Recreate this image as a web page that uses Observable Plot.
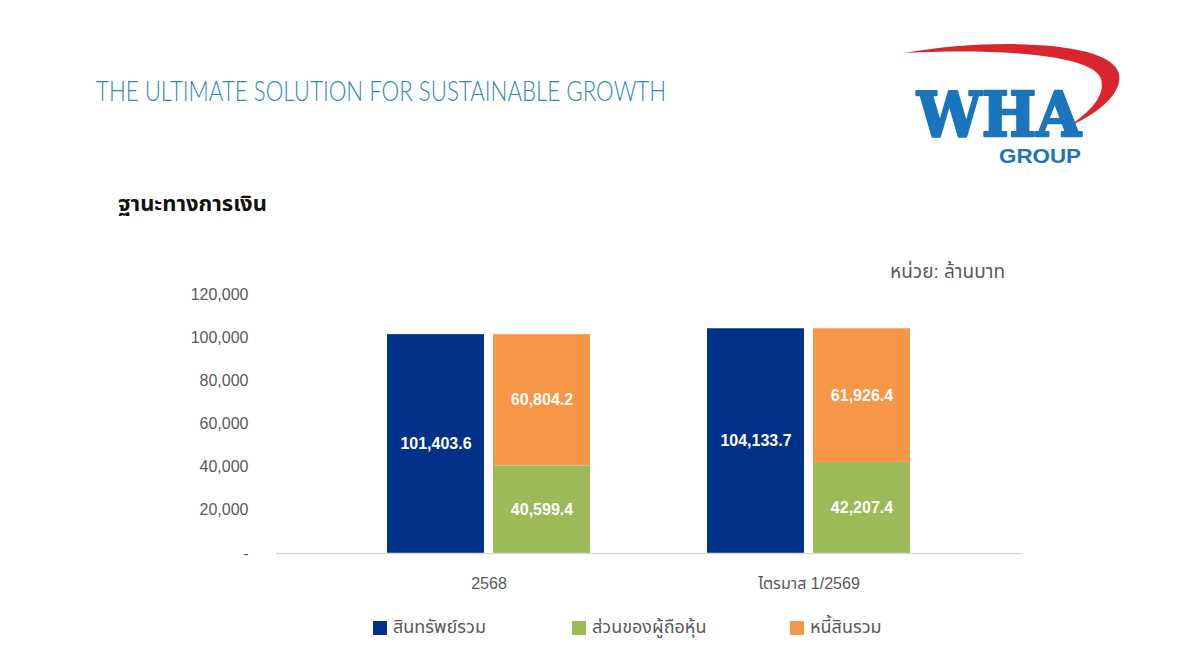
<!DOCTYPE html>
<html>
<head>
<meta charset="utf-8">
<script src="https://cdn.jsdelivr.net/npm/d3@7"></script>
<script src="https://cdn.jsdelivr.net/npm/@observablehq/plot@0.6"></script>
<style>
  html, body { margin: 0; padding: 0; background: #ffffff; }
  #page { position: relative; width: 1200px; height: 664px; overflow: hidden; background: #ffffff;
          font-family: "Liberation Sans", Arial, "Noto Sans Thai", Tahoma, sans-serif; }
  #header { position: absolute; left: 0; top: 0; }
  #chart { position: absolute; left: 0; top: 280px; }
  .legend-item { position: absolute; top: 614px; display: flex; align-items: center;
                 font-size: 18px; color: #595959; white-space: nowrap; }
  .legend-item .sw { width: 14px; height: 14px; margin-right: 6px; }
</style>
</head>
<body>
<div id="page">
  <svg id="header" width="1200" height="300" xmlns="http://www.w3.org/2000/svg">
    <text x="96" y="101" textLength="570" lengthAdjust="spacingAndGlyphs"
          font-family="Lato, 'Open Sans', sans-serif" font-weight="300" font-size="27" fill="#2e86c1">THE ULTIMATE SOLUTION FOR SUSTAINABLE GROWTH</text>
    <!-- logo: red swoosh, WHA wordmark, GROUP -->
    <path d="M904,53 C990,38 1112,40 1119,74 C1123,95 1095,115 1066,128 C1088,114 1106,97 1101,79 C1094,55 1000,48 904,53 Z" fill="#d9262e"/>
    <text x="917" y="136" textLength="164" lengthAdjust="spacingAndGlyphs"
          font-family="'DejaVu Serif', serif" font-weight="bold" font-size="62" fill="#1b75bc"
          stroke="#1b75bc" stroke-width="2.5" stroke-linejoin="round">WHA</text>
    <text x="999" y="163" textLength="82" lengthAdjust="spacingAndGlyphs"
          font-family="'Liberation Sans', Arial, sans-serif" font-weight="bold" font-size="21" fill="#1b75bc">GROUP</text>
    <text x="118" y="211" font-family="'Liberation Sans', Arial, 'Noto Sans Thai', sans-serif" font-weight="bold" font-size="22" fill="#111111">ฐานะทางการเงิน</text>
    <text x="1005" y="278" text-anchor="end" font-family="'Liberation Sans', Arial, 'Noto Sans Thai', sans-serif" font-size="19" fill="#595959">หน่วย: ล้านบาท</text>
  </svg>
  <div id="chart"></div>
  <div id="legend"></div>
</div>
<script>
// Financial position (million baht)
const periods = ["2568", "ไตรมาส 1/2569"];
const seriesNames = ["สินทรัพย์รวม", "ส่วนของผู้ถือหุ้น", "หนี้สินรวม"];
const seriesColors = ["#003087", "#9bbb59", "#f79646"];
const totalAssets = [101403.6, 104133.7];
const shareholdersEquity = [40599.4, 42207.4];
const totalLiabilities = [60804.2, 61926.4];
const yTicks = [0, 20000, 40000, 60000, 80000, 100000, 120000];

// Left bar: total assets; right bar: equity stacked under liabilities
const assetRows = periods.map((p, i) => ({period: p, series: seriesNames[0], value: totalAssets[i]}));
const splitRows = periods.flatMap((p, i) => [
  {period: p, series: seriesNames[1], value: shareholdersEquity[i]},
  {period: p, series: seriesNames[2], value: totalLiabilities[i]}
]);

const fmtValue = d3.format(",.1f");
const fmtTick = d => d === 0 ? "-" : d3.format(",")(d);
const labelStyle = {fill: "white", fontWeight: "bold", fontSize: 16};

const chart = Plot.plot({
  width: 1200,
  height: 318,
  marginTop: 14,
  marginBottom: 45,
  marginLeft: 276,
  marginRight: 178,
  style: {fontFamily: "'Liberation Sans', Arial, 'Noto Sans Thai', sans-serif", fontSize: "16px", color: "#595959", background: "transparent"},
  x: {domain: periods, paddingInner: 0.3656, paddingOuter: 0.3484, label: null, tickSize: 0, tickPadding: 24},
  y: {domain: [0, 120000], ticks: yTicks, tickFormat: fmtTick, tickSize: 0, tickPadding: 28, label: null},
  color: {domain: seriesNames, range: seriesColors},
  marks: [
    Plot.barY(assetRows, {x: "period", y: "value", fill: "series", insetRight: 106}),
    Plot.barY(splitRows, Plot.stackY({x: "period", y: "value", fill: "series", insetLeft: 106})),
    Plot.ruleY([0], {stroke: "#d9d9d9", strokeWidth: 1.5}),
    Plot.text(assetRows, Plot.stackY({x: "period", y: "value", text: d => fmtValue(d.value), dx: -53, ...labelStyle})),
    Plot.text(splitRows, Plot.stackY({x: "period", y: "value", text: d => fmtValue(d.value), dx: 53, ...labelStyle}))
  ]
});
document.getElementById("chart").appendChild(chart);

// Legend below the chart
const legendLeft = [373, 572, 790];
const legend = document.getElementById("legend");
seriesNames.forEach((name, i) => {
  const item = document.createElement("div");
  item.className = "legend-item";
  item.style.left = legendLeft[i] + "px";
  const sw = document.createElement("span");
  sw.className = "sw";
  sw.style.background = seriesColors[i];
  const label = document.createElement("span");
  label.textContent = name;
  item.appendChild(sw);
  item.appendChild(label);
  legend.appendChild(item);
});
</script>
</body>
</html>
